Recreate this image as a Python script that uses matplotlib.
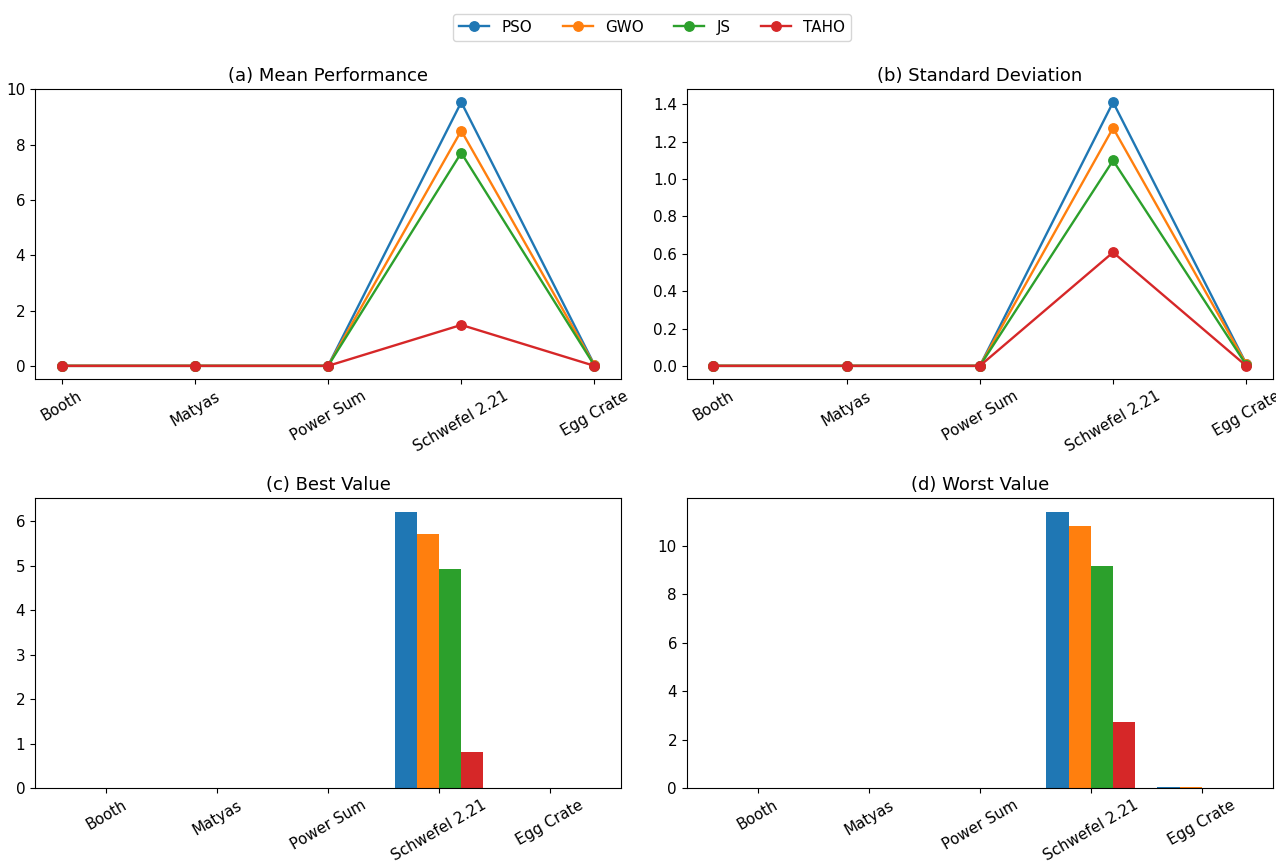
import numpy as np
import matplotlib
matplotlib.use('Agg')
import matplotlib.pyplot as plt

functions = ['Booth', 'Matyas', 'Power Sum', 'Schwefel 2.21', 'Egg Crate']
algorithms = ['PSO', 'GWO', 'JS', 'TAHO']

mean_vals = {
    'PSO':  [0.0, 0.0, 0.0, 9.53, 0.03],
    'GWO':  [0.0, 0.0, 0.0, 8.50, 0.02],
    'JS':   [0.0, 0.0, 0.0, 7.70, 0.01],
    'TAHO': [0.0, 0.0, 0.0, 1.48, 0.0],
}
std_vals = {
    'PSO':  [0.0, 0.0, 0.0, 1.412, 0.01],
    'GWO':  [0.0, 0.0, 0.0, 1.274, 0.01],
    'JS':   [0.0, 0.0, 0.0, 1.10, 0.005],
    'TAHO': [0.0, 0.0, 0.0, 0.608, 0.0],
}
best_vals = {
    'PSO':  [0.0, 0.0, 0.0, 6.21, 0.0],
    'GWO':  [0.0, 0.0, 0.0, 5.72, 0.0],
    'JS':   [0.0, 0.0, 0.0, 4.92, 0.0],
    'TAHO': [0.0, 0.0, 0.0, 0.80, 0.0],
}
worst_vals = {
    'PSO':  [0.0, 0.0, 0.0, 11.42, 0.05],
    'GWO':  [0.0, 0.0, 0.0, 10.84, 0.04],
    'JS':   [0.0, 0.0, 0.0, 9.19, 0.0],
    'TAHO': [0.0, 0.0, 0.0, 2.71, 0.0],
}

plt.rcParams['font.size'] = 10.9
plt.rcParams['axes.titlesize'] = 13
plt.rcParams['lines.linewidth'] = 1.7
plt.rcParams['lines.markersize'] = 6.8

fig, axes = plt.subplots(2, 2, figsize=(12.76, 8.61), dpi=100)
x = np.arange(len(functions))

ax = axes[0, 0]
for a in algorithms:
    ax.plot(x, mean_vals[a], marker='o', label=a)
ax.set_title('(a) Mean Performance')

ax = axes[0, 1]
for a in algorithms:
    ax.plot(x, std_vals[a], marker='o', label=a)
ax.set_title('(b) Standard Deviation')

w = 0.2
for ax, data, title in [(axes[1, 0], best_vals, '(c) Best Value'),
                        (axes[1, 1], worst_vals, '(d) Worst Value')]:
    for i, a in enumerate(algorithms):
        ax.bar(x + (i - 1.5) * w, data[a], width=w, label=a)
    ax.set_title(title)

for ax in axes.flat:
    ax.set_xticks(x)
    ax.set_xticklabels(functions, rotation=30)

handles, labels = axes[0, 0].get_legend_handles_labels()
fig.legend(handles, labels, loc='upper center', ncol=4, bbox_to_anchor=(0.511, 0.993))

plt.subplots_adjust(left=0.0274, right=0.9976, top=0.8966, bottom=0.0848,
                    wspace=0.112, hspace=0.41)
plt.savefig('out.png')
